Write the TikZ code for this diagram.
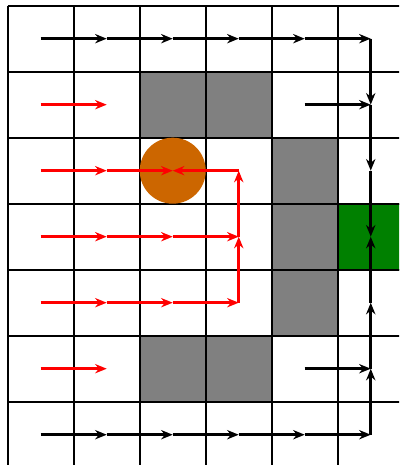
\documentclass[tikz,border=0pt]{standalone}
\usepackage{xcolor}
\usepackage{tikz}
\usetikzlibrary{arrows.meta}

\tikzset{
  pasoN/.style={-{Stealth[length=5pt,width=4pt,inset=1.6pt]}, line width=1.1pt, black},
  pasoR/.style={-{Stealth[length=5pt,width=4pt,inset=1.6pt]}, line width=1.1pt, red},
  muro/.style={fill=gray, draw=black!35, line width=0.9pt},
}

\begin{document}
\begin{tikzpicture}[x=1cm, y=-1cm]
        \colorlet{fondoMeta}{green!50!black}
        \definecolor{agente}{RGB}{204,102,0}
        \useasboundingbox (-0.117,-0.086) rectangle (5.929,6.959);
        \clip (-0.117,-0.086) rectangle (5.929,6.959);
        % centros de las celdas
        \foreach \i in {0,...,5}
            \foreach \j in {0,...,6}
                \coordinate (c\i\j) at (\i+0.5,\j+0.5);
        % muros y meta
        \draw[muro] (2,1) rectangle (4,2);
        \draw[muro] (4,2) rectangle (5,5);
        \draw[muro] (2,5) rectangle (4,6);
        \draw[fill=fondoMeta, draw=green!35!black, line width=0.9pt] (5,3) rectangle (6,4);
        \draw[line width=0.8pt] (0,0) grid (7,8);
        \fill[agente] (c22) circle (0.5);
        % camino de arriba y de abajo
        \foreach \i [count=\k from 1] in {0,...,4} {
            \draw[pasoN] (c\i0) -- (c\k0);
            \draw[pasoN] (c\i6) -- (c\k6);
        }
        \draw[pasoN] (c50) -- (c51);
        \draw[pasoN] (c41) -- (c51);
        \draw[pasoN] (c51) -- (c52);
        \draw[pasoN] (c52) -- (c53);
        \draw[pasoN] (c56) -- (c55);
        \draw[pasoN] (c45) -- (c55);
        \draw[pasoN] (c55) -- (c54);
        \draw[pasoN] (c54) -- (c53);
        % camino rojo hacia el agente
        \draw[pasoR] (c01) -- (c11);
        \draw[pasoR] (c05) -- (c15);
        \draw[pasoR] (c02) -- (c12);
        \draw[pasoR] (c12) -- (c22);
        \draw[pasoR] (c32) -- (c22);
        \foreach \i [count=\k from 1] in {0,...,2} {
            \draw[pasoR] (c\i3) -- (c\k3);
            \draw[pasoR] (c\i4) -- (c\k4);
        }
        \draw[pasoR] (c33) -- (c32);
        \draw[pasoR] (c34) -- (c33);
    \end{tikzpicture}
\end{document}
